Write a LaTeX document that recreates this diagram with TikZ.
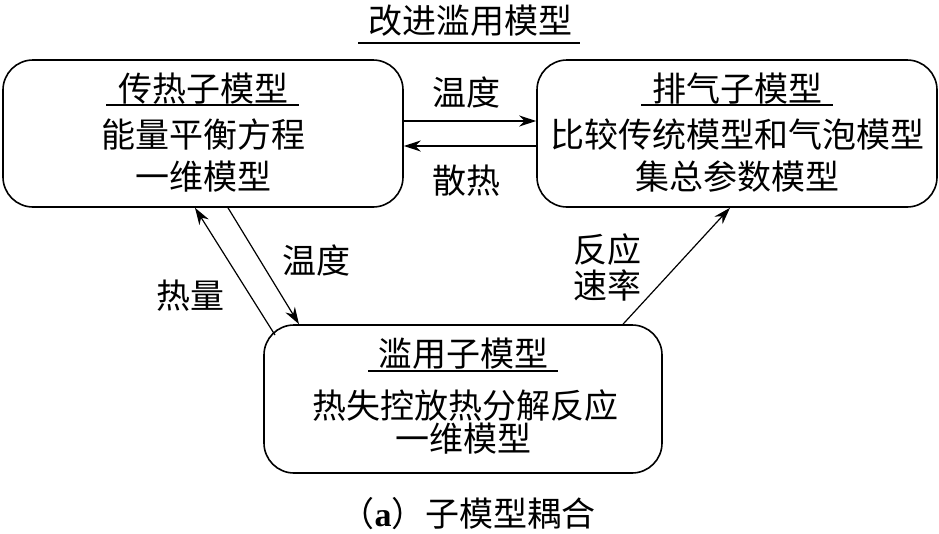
\documentclass[tikz,border=0pt]{standalone}
\usepackage{fontspec}
\setmainfont{Noto Sans CJK SC}
\newfontfamily\latinserif{Liberation Serif}
\usetikzlibrary{arrows.meta}
\begin{document}
\begin{tikzpicture}[x=1pt,y=-1pt,
  box/.style={draw,line width=1.6pt,rounded corners=30pt,inner sep=0pt},
  txt/.style={anchor=base,inner sep=0pt,font=\fontsize{34}{40}\selectfont},
  arr/.style={line width=1.2pt,-{Stealth[length=17pt,width=11pt]}},
  uline/.style={line width=1.6pt}]
\useasboundingbox (0,0) rectangle (939,533);
% boxes
\node[box,minimum width=400pt,minimum height=147pt] (heat) at (203,133.5) {};
\node[box,minimum width=400pt,minimum height=147pt] (exh) at (737,133.5) {};
\node[box,minimum width=398pt,minimum height=148pt] (abuse) at (463,399) {};
% title
\node[txt] (title) at (470,33) {改进滥用模型};
\draw[uline] (358,43) -- (580,43);
% heat box text
\node[txt] (h1) at (203,101) {传热子模型};
\draw[uline] (106,105) -- (299,105);
\node[txt] (h2) at (203,147) {能量平衡方程};
\node[txt] (h3) at (203,189) {一维模型};
% exhaust box text
\node[txt] (e1) at (737,101) {排气子模型};
\draw[uline] (641,105) -- (833,105);
\node[txt] (e2) at (737,147) {比较传统模型和气泡模型};
\node[txt] (e3) at (737,189) {集总参数模型};
% abuse box text
\node[txt] (a1) at (463,366) {滥用子模型};
\draw[uline] (368,371) -- (558,371);
\node[txt] (a2) at (465,418) {热失控放热分解反应};
\node[txt] (a3) at (463,451) {一维模型};
% labels
\node[txt] (l1) at (466,105) {温度};
\node[txt] (l2) at (466,193) {散热};
\node[txt] (l3) at (316,273) {温度};
\node[txt] (l4) at (190,308) {热量};
\node[txt] (l5) at (607,262) {反应};
\node[txt] (l6) at (607,298) {速率};
% caption
\node[txt] (cap) at (468,526) {（{\latinserif\bfseries a}）子模型耦合};
% connectors
\coordinate (c1) at (228,0);
\coordinate (c2) at (299,0);
\coordinate (c3) at (195,0);
\coordinate (c4) at (730,0);
\coordinate (hq) at (275,335);
\coordinate (rs) at (623,0);
\draw[arr] (heat.east |- 0,121) -- (exh.west |- 0,121);
\draw[arr] (exh.west |- 0,146) -- (heat.east |- 0,146);
\draw[arr] (heat.south -| c1) -- (abuse.north -| c2);
\draw[arr] (hq) -- (heat.south -| c3);
\draw[arr] (abuse.north -| rs) -- (exh.south -| c4);
\end{tikzpicture}
\end{document}
